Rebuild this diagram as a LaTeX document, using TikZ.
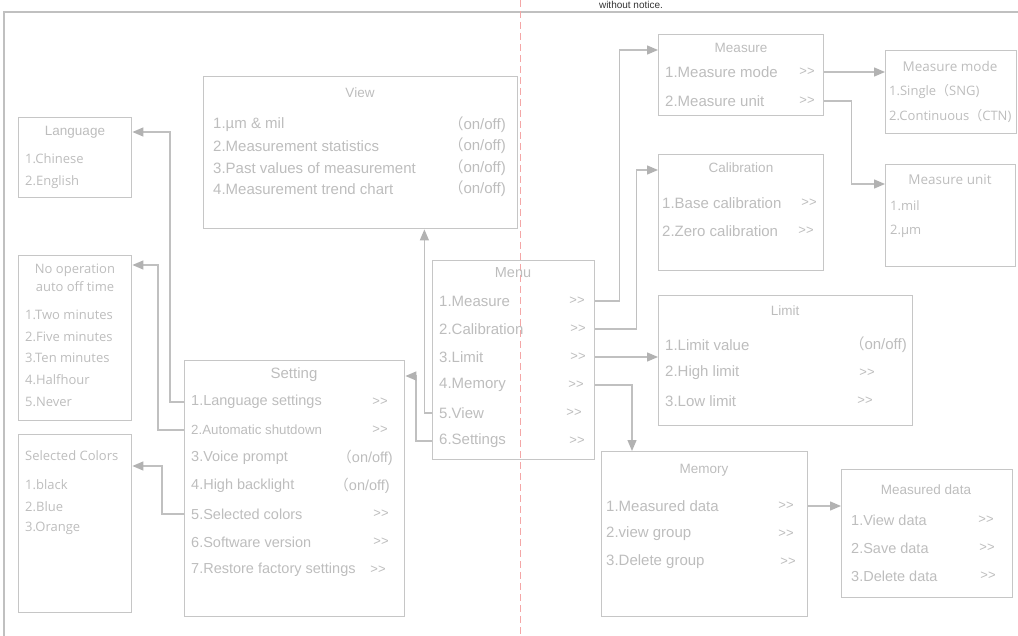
\documentclass[tikz,border=0pt]{standalone}
\usepackage{fontspec}
\setmainfont{Liberation Sans}
\newfontfamily\segoe{Open Sans}
\newfontfamily\cjk{Noto Sans CJK SC}
\usepackage{tikz}
\usetikzlibrary{positioning, calc, arrows.meta}
\definecolor{txt}{HTML}{BDBDBD}
\definecolor{boxgray}{HTML}{C6C6C6}
\definecolor{linegray}{HTML}{C0C0C0}
\definecolor{tipgray}{HTML}{B2B2B2}
\definecolor{redline}{HTML}{F4A6A6}
\newcommand{\nxt}{>{}>}

\begin{document}
\begin{tikzpicture}[x=1pt, y=-1pt,
    box/.style={draw=boxgray, line width=1.4pt, anchor=north west, inner sep=0pt},
    ttl/.style={text=txt, inner sep=0pt, font=\fontsize{13.5}{16}\selectfont},
    item/.style={text=txt, anchor=west, inner sep=0pt, font=\fontsize{15}{18}\selectfont},
    sitem/.style={text=txt, anchor=west, inner sep=0pt, font=\segoe\fontsize{13}{16}\selectfont},
    onoff/.style={item, anchor=east},
    more/.style={text=txt, inner sep=0pt, font=\fontsize{13}{16}\selectfont},
    link/.style={draw=linegray, line width=1.3pt, -{Triangle[length=11pt,width=9pt,color=tipgray]}}]
    \useasboundingbox (0,0) rectangle (1018,636);

    % page frame, fold line and note
    \draw[linegray, line width=1.2pt] (4,640) -- (4,12) -- (1020,12);
    \draw[redline, line width=1pt, dash pattern=on 7pt off 4pt] (520,0) -- (520,636);
    \node[text=black!80, font=\fontsize{10}{12}\selectfont, anchor=base] (note) at (631,9) {without notice.};

    % boxes
    \node[box, minimum width=314pt, minimum height=152pt] (view) at (203,76) {};
    \node[box, minimum width=113pt, minimum height=80pt] (lang) at (18,117) {};
    \node[box, minimum width=113pt, minimum height=165pt] (off) at (18,255) {};
    \node[box, minimum width=113pt, minimum height=178pt] (col) at (18,434) {};
    \node[box, minimum width=220pt, minimum height=256pt] (set) at (184,360) {};
    \node[box, minimum width=162pt, minimum height=199pt] (menu) at (432,260) {};
    \node[box, minimum width=165pt, minimum height=81pt] (meas) at (658,34) {};
    \node[box, minimum width=131pt, minimum height=83pt] (mode) at (885,50) {};
    \node[box, minimum width=130pt, minimum height=102pt] (unit) at (885,164) {};
    \node[box, minimum width=165pt, minimum height=116pt] (cal) at (658,154) {};
    \node[box, minimum width=254pt, minimum height=130pt] (lim) at (658,295) {};
    \node[box, minimum width=206pt, minimum height=165pt] (mem) at (601,451) {};
    \node[box, minimum width=171pt, minimum height=128pt] (data) at (841,469) {};

    % View
    \node[ttl] (viewt) at (360,93) {View};
    \node[item] (v1) at (213,125) {1.µm \& mil};
    \node[item] (v2) at (213,146) {2.Measurement statistics};
    \node[item] (v3) at (213,168) {3.Past values of measurement};
    \node[item] (v4) at (213,189) {4.Measurement trend chart};
    \node[onoff] (v1s) at (506,125) {{\cjk（}on/off)};
    \node[onoff] (v2s) at (506,146) {{\cjk（}on/off)};
    \node[onoff] (v3s) at (506,168) {{\cjk（}on/off)};
    \node[onoff] (v4s) at (506,189) {{\cjk（}on/off)};

    % Language
    \node[ttl] (langt) at (75,132) {Language};
    \node[sitem] (l1) at (25,159) {1.Chinese};
    \node[sitem] (l2) at (25,182) {2.English};

    % auto off time
    \node[ttl, font=\segoe\fontsize{13}{16}\selectfont] (offt) at (75,270) {No operation};
    \node[ttl, font=\segoe\fontsize{13}{16}\selectfont] (offt2) at (75,287) {auto off time};
    \node[sitem] (o1) at (25,315) {1.Two minutes};
    \node[sitem] (o2) at (25,337) {2.Five minutes};
    \node[sitem] (o3) at (25,358) {3.Ten minutes};
    \node[sitem] (o4) at (25,380) {4.Halfhour};
    \node[sitem] (o5) at (25,402) {5.Never};

    % Selected Colors
    \node[sitem] (colt) at (25,456) {Selected Colors};
    \node[sitem] (c1) at (25,485) {1.black};
    \node[sitem] (c2) at (25,507) {2.Blue};
    \node[sitem] (c3) at (25,528) {3.Orange};

    % Setting
    \node[ttl, font=\fontsize{15}{18}\selectfont] (sett) at (294,375) {Setting};
    \node[item, font=\fontsize{14.5}{18}\selectfont] (s1) at (191,402) {1.Language settings};
    \node[item, font=\fontsize{13.3}{16}\selectfont] (s2) at (191,430) {2.Automatic shutdown};
    \node[item, font=\fontsize{14.5}{18}\selectfont] (s3) at (191,458) {3.Voice prompt};
    \node[item, font=\fontsize{14.5}{18}\selectfont] (s4) at (191,486) {4.High backlight};
    \node[item, font=\fontsize{14.5}{18}\selectfont] (s5) at (191,514) {5.Selected colors};
    \node[item, font=\fontsize{14.5}{18}\selectfont] (s6) at (191,542) {6.Software version};
    \node[item, font=\fontsize{14.5}{18}\selectfont] (s7) at (191,570) {7.Restore factory settings};
    \node[more] (s1m) at (380,402) {\nxt};
    \node[more] (s2m) at (380,430) {\nxt};
    \node[onoff, font=\fontsize{14.5}{18}\selectfont] (s3s) at (393,458) {{\cjk（}on/off)};
    \node[onoff, font=\fontsize{14.5}{18}\selectfont] (s4s) at (390,486) {{\cjk（}on/off)};
    \node[more] (s5m) at (381,514) {\nxt};
    \node[more] (s6m) at (381,542) {\nxt};
    \node[more] (s7m) at (378,570) {\nxt};

    % Menu
    \node[ttl, font=\fontsize{14.5}{18}\selectfont] (menut) at (513,273) {Menu};
    \node[item] (m1) at (439,301) {1.Measure};
    \node[item] (m2) at (439,329) {2.Calibration};
    \node[item] (m3) at (439,357) {3.Limit};
    \node[item] (m4) at (439,385) {4.Memory};
    \node[item] (m5) at (439,413) {5.View};
    \node[item] (m6) at (439,441) {6.Settings};
    \node[more] (m1m) at (577,301) {\nxt};
    \node[more] (m2m) at (578,329) {\nxt};
    \node[more] (m3m) at (578,357) {\nxt};
    \node[more] (m4m) at (576,385) {\nxt};
    \node[more] (m5m) at (574,413) {\nxt};
    \node[more] (m6m) at (577,441) {\nxt};

    % Measure
    \node[ttl] (meast) at (741,48) {Measure};
    \node[item] (mm1) at (665,72) {1.Measure mode};
    \node[item] (mm2) at (665,101) {2.Measure unit};
    \node[more] (mm1m) at (807,72) {\nxt};
    \node[more] (mm2m) at (807,101) {\nxt};

    % Measure mode
    \node[ttl, font=\segoe\fontsize{13.5}{16}\selectfont] (modet) at (950,66) {Measure mode};
    \node[sitem] (d1) at (889,92) {1.Single{\cjk（}SNG)};
    \node[sitem] (d2) at (889,116) {2.Continuous{\cjk（}CTN)};

    % Measure unit
    \node[ttl, font=\segoe\fontsize{13.5}{16}\selectfont] (unitt) at (950,180) {Measure unit};
    \node[sitem] (u1) at (890,206) {1.mil};
    \node[sitem] (u2) at (890,231) {2.µm};

    % Calibration
    \node[ttl] (calt) at (741,168) {Calibration};
    \node[item] (k1) at (662,203) {1.Base calibration};
    \node[item] (k2) at (662,231) {2.Zero calibration};
    \node[more] (k1m) at (809,203) {\nxt};
    \node[more] (k2m) at (806,231) {\nxt};

    % Limit
    \node[ttl] (limt) at (785,311) {Limit};
    \node[item] (t1) at (665,345) {1.Limit value};
    \node[item] (t2) at (665,373) {2.High limit};
    \node[item] (t3) at (665,401) {3.Low limit};
    \node[onoff] (t1s) at (907,345) {{\cjk（}on/off)};
    \node[more] (t2m) at (867,373) {\nxt};
    \node[more] (t3m) at (865,401) {\nxt};

    % Memory
    \node[ttl] (memt) at (704,470) {Memory};
    \node[item] (e1) at (606,506) {1.Measured data};
    \node[item] (e2) at (606,534) {2.view group};
    \node[item] (e3) at (606,562) {3.Delete group};
    \node[more] (e1m) at (786,506) {\nxt};
    \node[more] (e2m) at (786,534) {\nxt};
    \node[more] (e3m) at (788,562) {\nxt};

    % Measured data
    \node[ttl] (datat) at (926,490) {Measured data};
    \node[item, font=\fontsize{14.5}{18}\selectfont] (a1) at (851,520) {1.View data};
    \node[item, font=\fontsize{14.5}{18}\selectfont] (a2) at (851,548) {2.Save data};
    \node[item, font=\fontsize{14.5}{18}\selectfont] (a3) at (851,576) {3.Delete data};
    \node[more] (a1m) at (986,520) {\nxt};
    \node[more] (a2m) at (987,548) {\nxt};
    \node[more] (a3m) at (988,576) {\nxt};

    % connectors
    \draw[link] (menu.east |- m1) -- ++(24,0) |- ([yshift=-16pt]meas.north west);
    \draw[link] (menu.east |- m2) -- ++(41,0) |- ([yshift=-16pt]cal.north west);
    \draw[link] (menu.east |- m3) -- (lim.west |- m3);
    \draw[link] (menu.east |- m4) -| ([xshift=31pt]mem.north west);
    \draw[link] (menu.west |- m5) -| ([xshift=-94pt]view.south east);
    \draw[link] (menu.west |- m6) -- ++(-16,0) |- ([yshift=-16pt]set.north east);
    \draw[link] (set.west |- s1) -- ++(-14,0) |- ([yshift=-15pt]lang.north east);
    \draw[link] (set.west |- s2) -- ++(-26,0) |- ([yshift=-10pt]off.north east);
    \draw[link] (set.west |- s5) -- ++(-22,0) |- ([yshift=-32pt]col.north east);
    \draw[link] (meas.east |- mm1) -- (mode.west |- mm1);
    \draw[link] (meas.east |- mm2) -- ++(27,0) |- ([yshift=-20pt]unit.north west);
    \draw[link] (mem.east |- e1) -- (data.west |- e1);
\end{tikzpicture}
\end{document}
